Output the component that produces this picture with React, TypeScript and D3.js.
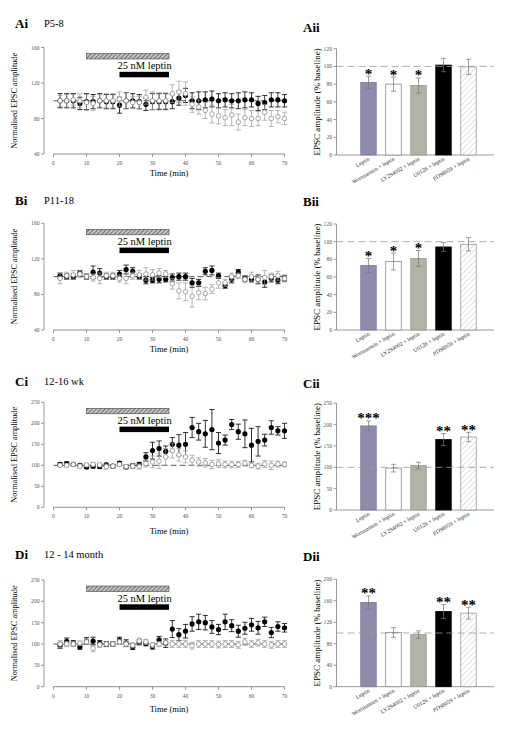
import React from 'react';
import * as d3 from 'd3';

// ---------- DATA ----------
const times = [2, 4, 6, 8, 10, 12, 14, 16, 18, 20, 22, 24, 26, 28, 30, 32, 34, 36, 38, 40, 42, 44, 46, 48, 50, 52, 54, 56, 58, 60, 62, 64, 66, 68, 70];
const timeTicks = [0, 10, 20, 30, 40, 50, 60, 70];

// Panel A (P5-8)
const aFilled = [100, 100, 100, 97, 99, 99, 100, 99, 99, 95, 100, 100, 99, 96, 99, 99, 99, 99, 103, 106, 100, 100, 101, 102, 100, 101, 100, 100, 101, 101, 97, 98, 101, 101, 100];
const aFilledErr = [8, 8, 8, 7, 9, 8, 8, 8, 8, 9, 9, 8, 8, 7, 9, 9, 9, 8, 8, 8, 9, 10, 9, 9, 8, 8, 8, 9, 9, 8, 8, 8, 8, 8, 7];
const aOpen = [100, 100, 101, 100, 98, 97, 100, 100, 100, 102, 100, 98, 98, 104, 100, 100, 100, 108, 110, 108, 96, 93, 89, 85, 83, 81, 84, 76, 81, 80, 80, 87, 80, 82, 80];
const aOpenErr = [6, 7, 6, 8, 9, 8, 7, 8, 8, 8, 9, 7, 7, 8, 10, 9, 9, 10, 12, 13, 9, 8, 9, 10, 9, 9, 12, 9, 9, 9, 8, 9, 9, 7, 7];

// Panel B (P11-18)
const bFilled = [101, 100, 100, 104, 100, 105, 104, 100, 100, 103, 108, 106, 100, 96, 96, 97, 97, 99, 100, 100, 93, 93, 106, 107, 101, 90, 97, 105, 98, 97, 97, 94, 98, 96, 98];
const bFilledErr = [3, 3, 3, 3, 3, 7, 5, 3, 3, 4, 5, 4, 3, 4, 3, 4, 3, 4, 4, 4, 5, 4, 4, 5, 3, 3, 4, 3, 3, 3, 5, 6, 4, 4, 3];
const bOpen = [98, 101, 102, 103, 100, 99, 98, 101, 101, 98, 98, 101, 102, 103, 102, 104, 103, 92, 84, 83, 78, 82, 81, 86, 93, 93, 100, 101, 97, 100, 97, 99, 100, 101, 98];
const bOpenErr = [6, 4, 5, 4, 3, 4, 6, 4, 4, 4, 6, 4, 5, 7, 6, 5, 4, 6, 9, 10, 12, 8, 7, 5, 6, 4, 4, 3, 4, 5, 4, 8, 4, 5, 4];

// Panel C (12-16 wk)
const cFilled = [102, 104, 102, 100, 96, 98, 97, 101, 98, 105, 96, 99, 102, 120, 135, 140, 133, 150, 148, 150, 190, 180, 175, 185, 153, 160, 197, 180, 175, 148, 157, 160, 190, 182, 182];
const cFilledErr = [4, 4, 3, 3, 4, 4, 4, 4, 4, 4, 4, 5, 5, 10, 20, 18, 13, 16, 25, 28, 24, 20, 32, 48, 25, 12, 12, 18, 33, 40, 35, 14, 16, 10, 18];
const cOpen = [100, 100, 102, 98, 101, 102, 101, 97, 98, 102, 97, 98, 97, 104, 108, 110, 120, 135, 125, 120, 112, 108, 106, 102, 104, 102, 102, 102, 105, 100, 98, 103, 100, 103, 102];
const cOpenErr = [4, 4, 3, 4, 4, 4, 4, 6, 4, 4, 5, 6, 6, 8, 14, 18, 20, 18, 15, 14, 12, 10, 10, 10, 9, 8, 8, 7, 7, 6, 7, 8, 10, 7, 6];

// Panel D (12 - 14 month)
const dFilled = [97, 106, 102, 93, 107, 107, 102, 100, 100, 109, 102, 93, 104, 101, 94, 110, 102, 135, 122, 130, 147, 152, 150, 140, 134, 152, 143, 130, 137, 145, 138, 152, 127, 141, 138];
const dFilledErr = [7, 8, 6, 5, 8, 9, 6, 6, 5, 7, 8, 6, 6, 5, 6, 8, 10, 20, 14, 16, 17, 18, 17, 15, 12, 18, 14, 14, 14, 15, 15, 11, 12, 11, 10];
const dOpen = [100, 100, 100, 102, 105, 90, 98, 100, 100, 105, 100, 97, 107, 105, 98, 100, 103, 100, 100, 100, 96, 100, 100, 100, 99, 100, 100, 98, 105, 100, 103, 100, 98, 100, 100];
const dOpenErr = [8, 6, 6, 5, 6, 8, 6, 5, 6, 6, 6, 6, 7, 6, 6, 6, 6, 8, 8, 8, 8, 8, 8, 8, 8, 8, 8, 8, 8, 8, 8, 8, 8, 8, 8];

// Bar charts
const categories = ['Leptin', 'Wortmannin + leptin', 'LY294002 + leptin', 'U0126 + leptin', 'PD98059 + leptin'];
const aiiMeans = [82, 80, 78.5, 101.5, 99.5];
const aiiErrs = [7, 8, 8.5, 7.5, 8.5];
const aiiStars = ['*', '*', '*', '', ''];
const biiMeans = [73, 77.5, 81, 94, 97];
const biiErrs = [8, 9.5, 9, 5, 7.5];
const biiStars = ['*', '*', '*', '', ''];
const ciiMeans = [197, 98, 104, 165, 171];
const ciiErrs = [12, 9, 8, 14, 11];
const ciiStars = ['***', '', '', '**', '**'];
const diiMeans = [157, 101, 97, 140, 137];
const diiErrs = [12, 9, 7, 13, 11];
const diiStars = ['**', '', '', '**', '**'];

const lineYTicksSmall = [40, 80, 120, 160];
const lineYTicksLarge = [0, 50, 100, 150, 200, 250];
const barTicksA = [0, 20, 40, 60, 80, 100, 120];
const barTicksC = [0, 50, 100, 150, 200, 250];
const barTicksD = [0, 40, 80, 120, 160, 200];

// ---------- STYLE ----------
const FONT = '"Liberation Serif", "Times New Roman", serif';
const AXIS = '#808080';
const TICKTXT = '#555';
const barFills = ['#8c8dab', '#ffffff', '#b2b3a4', '#000000', 'url(#pdHatch)'];
const barStrokes = ['#7a7b98', '#8a8a8a', '#9a9b8c', '#000000', '#9a9a9a'];

type LineProps = {
  top: number; bottom: number; yDomain: [number, number]; yTicks: number[];
  filled: number[]; filledErr: number[]; open: number[]; openErr: number[];
  label: string; sub: string; labelY: number; timeGap: number;
};

function LinePanel(p: LineProps) {
  const x = d3.scaleLinear().domain([0, 70]).range([53.5, 284.5]);
  const y = d3.scaleLinear().domain(p.yDomain).range([p.bottom, p.top]);
  const axisX = 44;
  const cap = 2.6;
  const stimTop = p.top;
  return (
    <g>
      <text x={15} y={p.labelY} fontFamily={FONT} fontWeight="bold" fontSize={13}>{p.label}</text>
      <text x={44} y={p.labelY - 1} fontFamily={FONT} fontSize={10.5}>{p.sub}</text>
      {/* y axis */}
      <line x1={axisX} x2={axisX} y1={y(p.yDomain[1])} y2={y(p.yDomain[0])} stroke={AXIS} strokeWidth={0.8} />
      {p.yTicks.map(t => (
        <g key={t}>
          <line x1={axisX - 3} x2={axisX} y1={y(t)} y2={y(t)} stroke={AXIS} strokeWidth={0.8} />
          <text x={axisX - 4.5} y={y(t) + 2} textAnchor="end" fontFamily={FONT} fontSize={5.6} fill={TICKTXT}>{t}</text>
        </g>
      ))}
      {/* x axis */}
      <line x1={x(0)} x2={x(70)} y1={p.bottom} y2={p.bottom} stroke={AXIS} strokeWidth={0.9} />
      {timeTicks.map(t => (
        <g key={t}>
          <line x1={x(t)} x2={x(t)} y1={p.bottom} y2={p.bottom + 3} stroke={AXIS} strokeWidth={0.8} />
          <text x={x(t)} y={p.bottom + 11} textAnchor="middle" fontFamily={FONT} fontSize={5.6} fill={TICKTXT}>{t}</text>
        </g>
      ))}
      <text x={x(35)} y={p.bottom + p.timeGap} textAnchor="middle" fontFamily={FONT} fontSize={8.5}>Time (min)</text>
      <text transform={`translate(15.5,${(p.top + p.bottom) / 2}) rotate(-90)`} textAnchor="middle" dominantBaseline="middle" fontFamily={FONT} fontSize={8.3}>Normalised EPSC amplitude</text>
      {/* drug application bars */}
      <rect x={x(10)} y={stimTop + 6} width={x(35) - x(10)} height={5.5} fill="url(#stimHatch)" stroke="#444" strokeWidth={0.6} />
      <text x={x(27.6)} y={stimTop + 21.7} textAnchor="middle" fontFamily={FONT} fontSize={10.5}>25 nM leptin</text>
      <rect x={x(20)} y={stimTop + 24.3} width={x(35) - x(20)} height={5.5} fill="#000" />
      {/* baseline */}
      <line x1={x(0)} x2={x(70)} y1={y(100)} y2={y(100)} stroke="#333" strokeWidth={0.8} strokeDasharray="6,3" />
      {/* filled series */}
      {times.map((t, i) => (
        <g key={'f' + t}>
          <line x1={x(t)} x2={x(t)} y1={y(p.filled[i] - p.filledErr[i])} y2={y(p.filled[i] + p.filledErr[i])} stroke="#000" strokeWidth={0.8} />
          <line x1={x(t) - cap} x2={x(t) + cap} y1={y(p.filled[i] + p.filledErr[i])} y2={y(p.filled[i] + p.filledErr[i])} stroke="#000" strokeWidth={0.8} />
          <line x1={x(t) - cap} x2={x(t) + cap} y1={y(p.filled[i] - p.filledErr[i])} y2={y(p.filled[i] - p.filledErr[i])} stroke="#000" strokeWidth={0.8} />
          <circle cx={x(t)} cy={y(p.filled[i])} r={2.6} fill="#000" />
        </g>
      ))}
      {/* open series */}
      {times.map((t, i) => (
        <g key={'o' + t}>
          <line x1={x(t)} x2={x(t)} y1={y(p.open[i] - p.openErr[i])} y2={y(p.open[i] + p.openErr[i])} stroke="#9a9a9a" strokeWidth={0.7} />
          <line x1={x(t) - cap} x2={x(t) + cap} y1={y(p.open[i] + p.openErr[i])} y2={y(p.open[i] + p.openErr[i])} stroke="#9a9a9a" strokeWidth={0.7} />
          <line x1={x(t) - cap} x2={x(t) + cap} y1={y(p.open[i] - p.openErr[i])} y2={y(p.open[i] - p.openErr[i])} stroke="#9a9a9a" strokeWidth={0.7} />
          <circle cx={x(t)} cy={y(p.open[i])} r={2.3} fill="#fff" stroke="#8a8a8a" strokeWidth={0.75} />
        </g>
      ))}
    </g>
  );
}

type BarProps = {
  top: number; bottom: number; yMax: number; yTicks: number[];
  means: number[]; errs: number[]; stars: string[];
  label: string; labelY: number;
};

function BarPanel(p: BarProps) {
  const x = d3.scaleBand<string>().domain(categories).range([356, 481]).paddingInner(0.38).paddingOuter(0.19);
  const y = d3.scaleLinear().domain([0, p.yMax]).range([p.bottom, p.top]);
  const axisX = 336.5;
  const cap = 2.6;
  return (
    <g>
      <text x={303} y={p.labelY} fontFamily={FONT} fontWeight="bold" fontSize={13}>{p.label}</text>
      <line x1={axisX} x2={axisX} y1={p.top} y2={p.bottom} stroke={AXIS} strokeWidth={0.8} />
      {p.yTicks.map(t => (
        <g key={t}>
          <line x1={axisX - 3} x2={axisX} y1={y(t)} y2={y(t)} stroke={AXIS} strokeWidth={0.8} />
          <text x={axisX - 4.5} y={y(t) + 2} textAnchor="end" fontFamily={FONT} fontSize={5.6} fill={TICKTXT}>{t}</text>
        </g>
      ))}
      <line x1={axisX} x2={494} y1={p.bottom} y2={p.bottom} stroke={AXIS} strokeWidth={0.8} />
      <text transform={`translate(318,${(p.top + p.bottom) / 2}) rotate(-90)`} textAnchor="middle" dominantBaseline="middle" fontFamily={FONT} fontSize={9}>EPSC amplitude (% baseline)</text>
      {categories.map((c, i) => (
        <g key={c}>
          <rect x={x(c)} y={y(p.means[i])} width={x.bandwidth()} height={p.bottom - y(p.means[i])} fill={barFills[i]} stroke={barStrokes[i]} strokeWidth={0.8} />
        </g>
      ))}
      <line x1={axisX} x2={494} y1={y(100)} y2={y(100)} stroke="#999" strokeWidth={0.8} strokeDasharray="7,4" />
      {categories.map((c, i) => {
        const cx = (x(c) as number) + x.bandwidth() / 2;
        const hi = y(p.means[i] + p.errs[i]);
        const lo = y(p.means[i] - p.errs[i]);
        return (
          <g key={c + 'e'}>
            <line x1={cx} x2={cx} y1={hi} y2={lo} stroke="#777" strokeWidth={0.7} />
            <line x1={cx - cap} x2={cx + cap} y1={hi} y2={hi} stroke="#777" strokeWidth={0.7} />
            <line x1={cx - cap} x2={cx + cap} y1={lo} y2={lo} stroke="#777" strokeWidth={0.7} />
            {p.stars[i] && (
              <text x={cx} y={hi + 2.5} textAnchor="middle" fontFamily={FONT} fontWeight="bold" fontSize={15}>{p.stars[i]}</text>
            )}
            <text transform={`translate(${cx + 1.5},${p.bottom + 5}) rotate(-30)`} textAnchor="end" fontFamily={FONT} fontSize={5.8} fill="#333">{c}</text>
          </g>
        );
      })}
    </g>
  );
}

export default function App() {
  return (
    <svg width={507} height={737} style={{ position: 'absolute', left: 0, top: 0, background: '#fff' }}>
      <defs>
        <pattern id="stimHatch" patternUnits="userSpaceOnUse" width={3} height={3} patternTransform="rotate(45)">
          <rect width={3} height={3} fill="#c4c4c4" />
          <line x1={0} y1={0} x2={0} y2={3} stroke="#444" strokeWidth={1.3} />
        </pattern>
        <pattern id="pdHatch" patternUnits="userSpaceOnUse" width={4} height={4} patternTransform="rotate(45)">
          <rect width={4} height={4} fill="#fff" />
          <line x1={0} y1={0} x2={0} y2={4} stroke="#b5b5b5" strokeWidth={0.8} />
        </pattern>
      </defs>
      <rect width={507} height={737} fill="#fff" />
      <LinePanel top={47.5} bottom={154} yDomain={[40, 160]} yTicks={lineYTicksSmall}
        filled={aFilled} filledErr={aFilledErr} open={aOpen} openErr={aOpenErr}
        label="Ai" sub="P5-8" labelY={28} timeGap={22} />
      <LinePanel top={223.3} bottom={330} yDomain={[40, 160]} yTicks={lineYTicksSmall}
        filled={bFilled} filledErr={bFilledErr} open={bOpen} openErr={bOpenErr}
        label="Bi" sub="P11-18" labelY={205} timeGap={22} />
      <LinePanel top={402.3} bottom={507.3} yDomain={[0, 250]} yTicks={lineYTicksLarge}
        filled={cFilled} filledErr={cFilledErr} open={cOpen} openErr={cOpenErr}
        label="Ci" sub="12-16 wk" labelY={386} timeGap={27} />
      <LinePanel top={580} bottom={686.7} yDomain={[0, 250]} yTicks={lineYTicksLarge}
        filled={dFilled} filledErr={dFilledErr} open={dOpen} openErr={dOpenErr}
        label="Di" sub="12 - 14 month" labelY={559} timeGap={25} />
      <BarPanel top={48.7} bottom={155} yMax={120} yTicks={barTicksA}
        means={aiiMeans} errs={aiiErrs} stars={aiiStars} label="Aii" labelY={32} />
      <BarPanel top={224} bottom={330} yMax={120} yTicks={barTicksA}
        means={biiMeans} errs={biiErrs} stars={biiStars} label="Bii" labelY={206} />
      <BarPanel top={403.3} bottom={510} yMax={250} yTicks={barTicksC}
        means={ciiMeans} errs={ciiErrs} stars={ciiStars} label="Cii" labelY={388} />
      <BarPanel top={579.3} bottom={686.7} yMax={200} yTicks={barTicksD}
        means={diiMeans} errs={diiErrs} stars={diiStars} label="Dii" labelY={561} />
    </svg>
  );
}
